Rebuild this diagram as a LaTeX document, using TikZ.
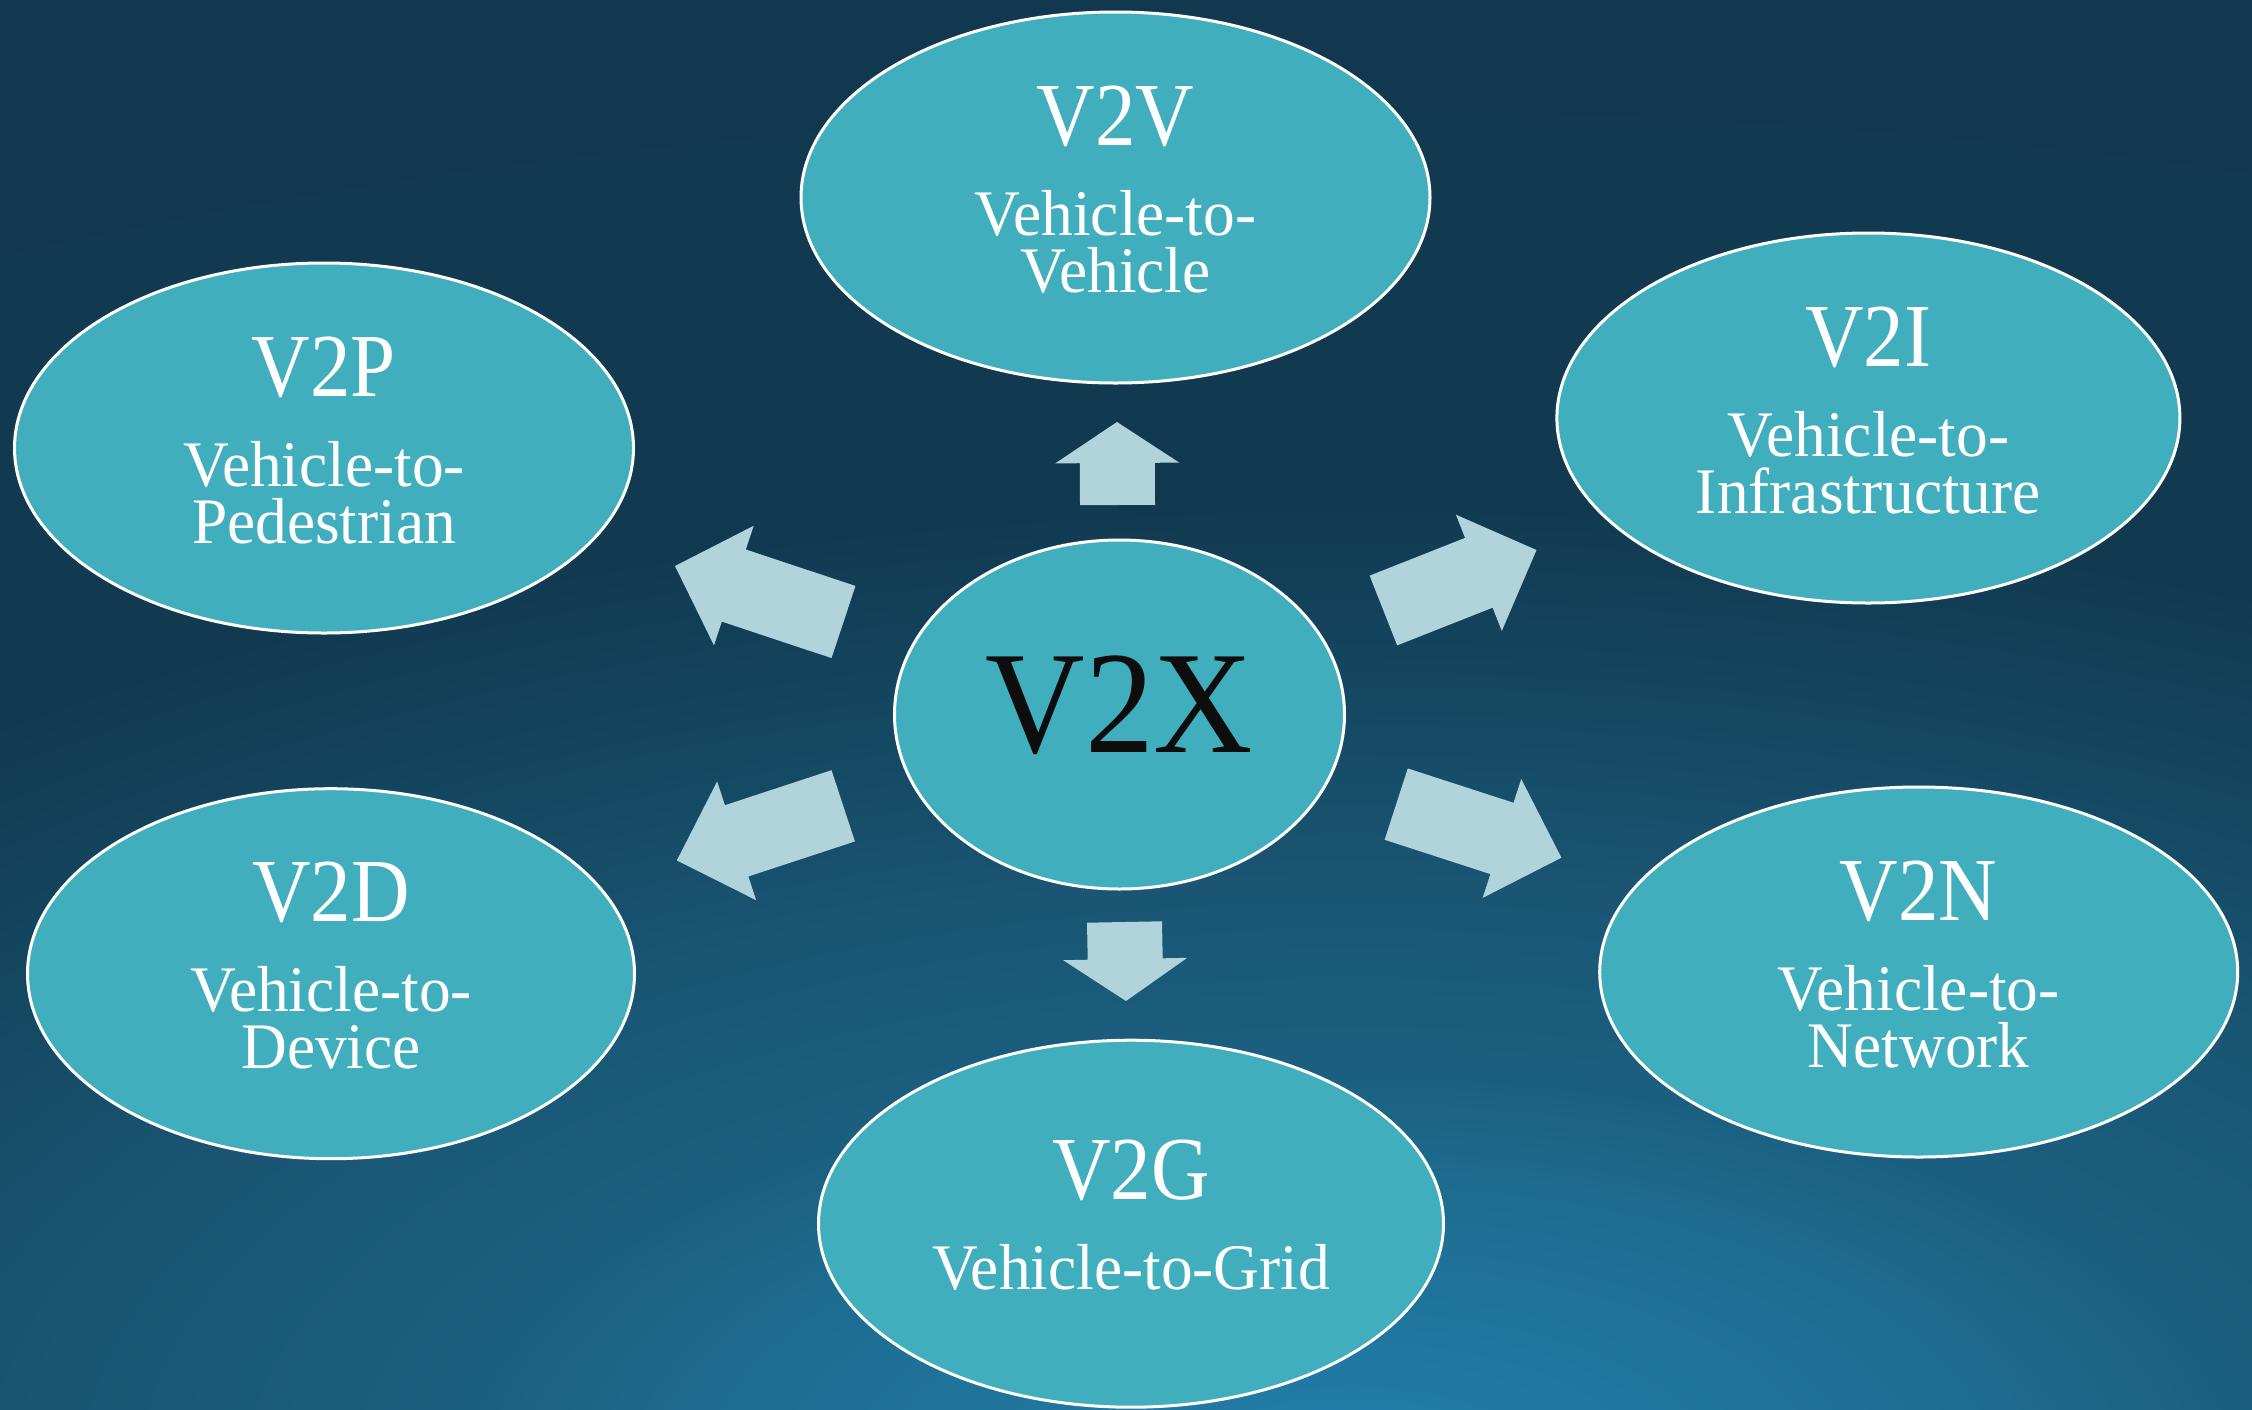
\documentclass[tikz,border=0pt]{standalone}
\usepackage{fontspec}
\setmainfont{Liberation Serif}
\usetikzlibrary{calc,shapes.geometric}
\definecolor{ellfill}{HTML}{41AEBE}
\definecolor{arrfill}{HTML}{B0D3DC}
\definecolor{bgA}{HTML}{2482AD}
\definecolor{bgB}{HTML}{2179A3}
\definecolor{bgC}{HTML}{1D6C90}
\definecolor{bgD}{HTML}{1B5F80}
\definecolor{bgE}{HTML}{1A5573}
\definecolor{bgF}{HTML}{144862}
\definecolor{bgG}{HTML}{113A50}
\definecolor{bgH}{HTML}{11384F}
\definecolor{vxtext}{HTML}{0D0D0D}
\pgfdeclareradialshading{bgshade}{\pgfpoint{0bp}{0bp}}{%
  color(0bp)=(bgA); color(1.65bp)=(bgB); color(5bp)=(bgC); color(6.75bp)=(bgD);
  color(10bp)=(bgE); color(12.85bp)=(bgF); color(16.25bp)=(bgG); color(25bp)=(bgH); color(50bp)=(bgH)}
\tikzset{
  ell/.style={ellipse, draw=white, line width=3pt, fill=ellfill, inner sep=0pt},
  titletext/.style={anchor=base, text=white, font=\fontsize{90}{90}\selectfont, xscale=0.9, inner sep=0pt},
  subtext/.style={anchor=base, text=white, font=\fontsize{65}{57}\selectfont, xscale=0.975, inner sep=0pt},
  centertext/.style={anchor=base, text=vxtext, font=\fontsize{146}{146}\selectfont, xscale=0.944, inner sep=0pt},
  arrowblock/.style={fill=arrfill}
}
\newcommand\blockarrow[6]{% name, tail, tip, shaft half width, head half width, head length
  \coordinate (#1-h) at ($(#3)!#6!(#2)$);
  \fill[arrowblock] ($(#2)!#4!90:(#3)$) -- ($(#1-h)!#4!90:(#3)$) -- ($(#1-h)!#5!90:(#3)$)
    -- (#3) -- ($(#1-h)!#5!-90:(#3)$) -- ($(#1-h)!#4!-90:(#3)$) -- ($(#2)!#4!-90:(#3)$) -- cycle;
}
\begin{document}
\begin{tikzpicture}[x=1pt,y=-1pt]
\useasboundingbox (0,0) rectangle (2252,1409);
\begin{scope}
  \clip (0,0) rectangle (2252,1409);
  \shade[shading=bgshade] (-1950,-20) rectangle (4650,2980);
\end{scope}

% ellipses
\node[ell, minimum width=629pt, minimum height=371pt] (v2v) at (1115.5,197.5) {};
\node[ell, minimum width=619pt, minimum height=370pt] (v2p) at (324,448) {};
\node[ell, minimum width=623pt, minimum height=370pt] (v2i) at (1868.4,418) {};
\node[ell, minimum width=450pt, minimum height=349pt] (v2x) at (1119.5,714.5) {};
\node[ell, minimum width=607pt, minimum height=370pt] (v2d) at (331,973.7) {};
\node[ell, minimum width=638pt, minimum height=370pt] (v2n) at (1918.7,972) {};
\node[ell, minimum width=625pt, minimum height=367pt] (v2g) at (1131,1223.7) {};

% texts
\node[titletext] (v2v-t) at ($(v2v.center)+(0,-52)$) {V2V};
\node[subtext] (v2v-a) at ($(v2v.center)+(0,38)$) {Vehicle-to-};
\node[subtext] (v2v-b) at ($(v2v.center)+(0,95)$) {Vehicle};

\node[titletext] (v2p-t) at ($(v2p.center)+(0,-52)$) {V2P};
\node[subtext] (v2p-a) at ($(v2p.center)+(0,38)$) {Vehicle-to-};
\node[subtext] (v2p-b) at ($(v2p.center)+(0,95)$) {Pedestrian};

\node[titletext] (v2i-t) at ($(v2i.center)+(0,-52)$) {V2I};
\node[subtext] (v2i-a) at ($(v2i.center)+(0,38)$) {Vehicle-to-};
\node[subtext] (v2i-b) at ($(v2i.center)+(0,95)$) {Infrastructure};

\node[titletext] (v2d-t) at ($(v2d.center)+(0,-52)$) {V2D};
\node[subtext] (v2d-a) at ($(v2d.center)+(0,38)$) {Vehicle-to-};
\node[subtext] (v2d-b) at ($(v2d.center)+(0,95)$) {Device};

\node[titletext] (v2n-t) at ($(v2n.center)+(0,-52)$) {V2N};
\node[subtext] (v2n-a) at ($(v2n.center)+(0,38)$) {Vehicle-to-};
\node[subtext] (v2n-b) at ($(v2n.center)+(0,95)$) {Network};

\node[titletext] (v2g-t) at ($(v2g.center)+(0,-24)$) {V2G};
\node[subtext] (v2g-a) at ($(v2g.center)+(0,66)$) {Vehicle-to-Grid};

\node[centertext] (v2x-t) at ($(v2x.center)+(0,37.5)$) {V2X};

% block arrows
\coordinate (up-s) at (1117.5,505);   \coordinate (up-e) at (1117,422);
\coordinate (dn-s) at (1124.5,922);   \coordinate (dn-e) at (1126,1001);
\coordinate (ul-s) at (843.5,622);    \coordinate (ul-e) at (675,566);
\coordinate (ur-s) at (1383.4,610.5); \coordinate (ur-e) at (1536.5,550);
\coordinate (ll-s) at (843.2,805.8);  \coordinate (ll-e) at (676.8,860.5);
\coordinate (lr-s) at (1396.2,804.1); \coordinate (lr-e) at (1561.4,857.7);
\blockarrow{up}{up-s}{up-e}{37.5pt}{62pt}{41pt}
\blockarrow{dn}{dn-s}{dn-e}{37.5pt}{62pt}{42pt}
\blockarrow{ul}{ul-s}{ul-e}{38pt}{63pt}{62pt}
\blockarrow{ur}{ur-s}{ur-e}{37.5pt}{62.5pt}{62pt}
\blockarrow{ll}{ll-s}{ll-e}{37.5pt}{62.5pt}{63pt}
\blockarrow{lr}{lr-s}{lr-e}{37.5pt}{62.5pt}{62.5pt}
\end{tikzpicture}
\end{document}
